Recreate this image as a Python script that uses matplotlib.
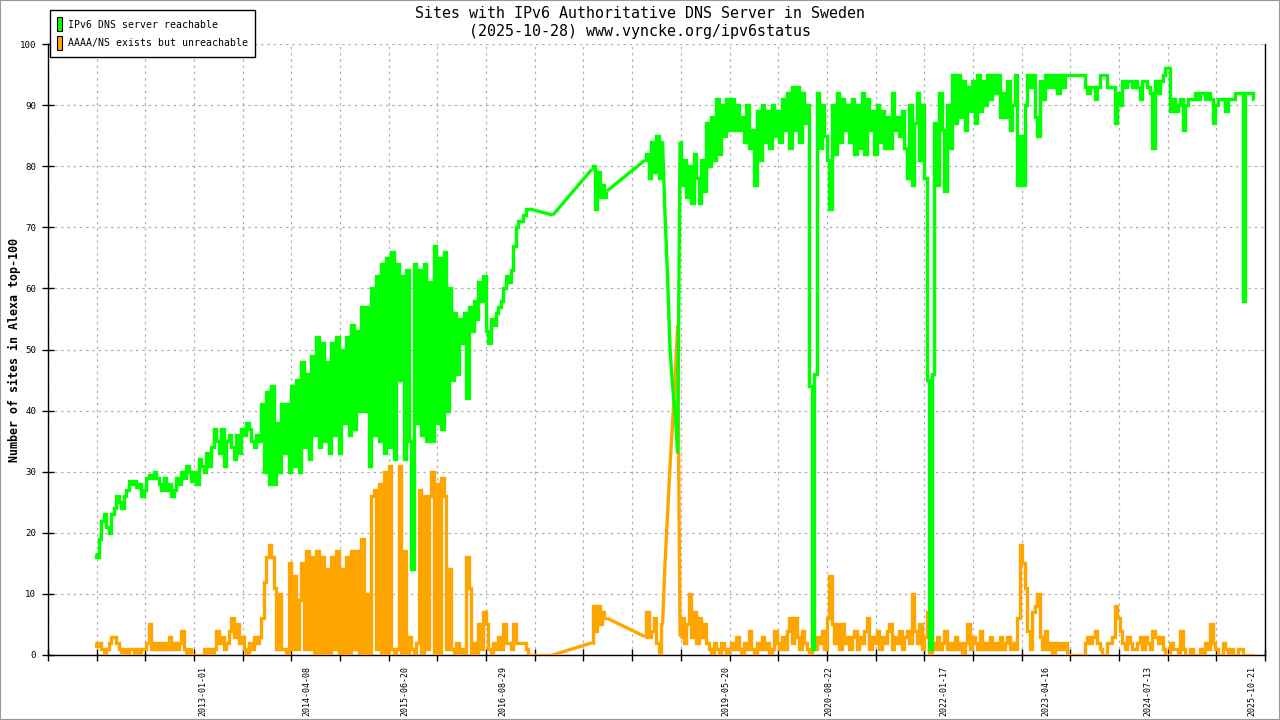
import numpy as np
import pandas as pd
import matplotlib
matplotlib.use("Agg")
import matplotlib.pyplot as plt
import matplotlib.dates as mdates
from matplotlib.patches import Patch, Rectangle

MONO = ["DejaVu Sans Mono", "Liberation Mono"]
plt.rcParams["font.family"] = MONO

TITLE = "Sites with IPv6 Authoritative DNS Server in Sweden\n(2025-10-28) www.vyncke.org/ipv6status"
YLABEL = "Number of sites in Alexa top-100"
SERIES_NAMES = ["IPv6 DNS server reachable", "AAAA/NS exists but unreachable"]

# ---- segment 1: dense measurements (2011-09-06 .. 2016-12-26) ----
seg1_span = ("2011-09-06", "2016-12-26")
green_s1 = [16.5, 16, 19, 22, 23, 21, 20, 23, 24, 26,
            25, 24, 26, 27, 28.5, 28, 28.5, 27.5, 28, 26,
            27, 29, 29.5, 29, 30, 29, 28, 27, 29, 27,
            28, 26, 27, 29, 28, 30, 29, 31, 30, 28.5,
            30, 28, 32, 31, 30, 33, 31, 34, 37, 35,
            33, 37, 31, 35, 36, 34, 32, 36, 33, 37,
            36, 38, 37, 35, 34, 36, 35, 41, 30, 43,
            28, 44, 28, 38, 30, 41, 33, 41, 30, 44,
            31, 45, 30, 48, 34, 46, 32, 49, 36, 52,
            34, 51, 35, 48, 33, 51, 36, 52, 33, 50,
            38, 52, 36, 54, 37, 53, 40, 57, 40, 57,
            31, 60, 36, 62, 35, 64, 33, 65, 34, 66,
            32, 64, 45, 62, 32, 63, 35, 14, 64, 38,
            63, 36, 64, 35, 61, 35, 67, 38, 65, 37,
            66, 40, 60, 45, 56, 46, 55, 51, 56, 42,
            57, 53, 58, 55, 61, 58, 62, 53, 51, 55,
            54, 56, 57, 58, 60, 62, 61, 63, 67, 70,
            71, 71, 72, 73, 73]
orange_s1 = [2, 1.5, 2, 1, 0, 1, 2, 3, 3, 2,
             1, 0.5, 1, 0, 1, 1, 0, 1, 0, 1,
             1, 2, 5, 1, 2, 1, 2, 1, 2, 1,
             3, 1, 2, 1, 2, 4, 1, 0, 1, 0,
             0, 0, 0, 0, 1, 0, 1, 0, 1, 4,
             2, 3, 1, 2, 4, 6, 3, 5, 2, 3,
             1, 0, 2, 1, 3, 2, 3, 6, 12, 16,
             18, 16, 11, 1, 10, 1, 1, 0, 15, 1,
             13, 1, 9, 15, 1, 17, 1, 16, 0, 17,
             0, 16, 0, 14, 0, 16, 1, 17, 0, 14,
             0, 16, 0, 17, 1, 17, 0, 19, 0, 10,
             0, 26, 27, 1, 28, 0, 30, 0, 31, 1,
             0, 1, 31, 0, 17, 0, 3, 1, 0, 2,
             27, 0, 26, 1, 26, 30, 0, 28, 0, 29,
             26, 1, 14, 1, 0, 2, 0, 1, 0, 16,
             11, 0, 2, 0, 5, 1, 7, 5, 1, 0,
             2, 1, 3, 1, 5, 2, 2, 1, 5, 2,
             2, 2, 2, 1, 0]

# ---- single sample in the sparse period ----
mid_span = ("2017-04-08", "2017-04-08")
green_mid = [72]
orange_mid = [0]

# ---- segment 2 (2017-09-29 .. 2017-12-07) ----
seg2_span = ("2017-09-29", "2017-12-07")
green_s2 = [79.5, 80, 73, 79, 75, 77, 75, 76]
orange_s2 = [2, 8, 4, 8, 5, 7, 6, 6]

# ---- segment 3a (2018-05-24 .. 2018-08-10) ----
seg3a_span = ("2018-05-24", "2018-08-10")
green_s3a = [81, 82, 78, 84, 79, 85, 78, 84]
orange_s3a = [3, 7, 3, 4, 6, 2, 0, 5]

# ---- transition (2018-08-21 .. 2018-10-16) ----
trans_span = ("2018-08-21", "2018-10-16")
green_tr = [72, 62, 50, 44, 40, 33]
orange_tr = [15, 23, 31, 38, 45, 54]

# ---- segment 3b (2018-10-27 .. 2025-10-28) ----
seg3b_span = ("2018-10-27", "2025-10-28")
green_s3b = [84, 77, 81, 75, 80, 74,
             82, 78, 74, 81, 76, 87, 80, 88, 81, 91,
             82, 90, 85, 91, 86, 91, 86, 90, 86, 88,
             84, 90, 83, 86, 77, 89, 81, 90, 84, 89,
             83, 90, 85, 89, 84, 91, 86, 92, 83, 93,
             86, 93, 84, 92, 87, 90, 44, 1, 46, 92,
             83, 90, 85, 81, 73, 90, 82, 92, 84, 91,
             86, 90, 84, 91, 82, 90, 83, 92, 82, 91,
             86, 89, 82, 90, 84, 89, 83, 88, 83, 92,
             86, 88, 85, 89, 83, 78, 90, 77, 87, 92,
             81, 90, 78, 45, 1, 46, 87, 77, 92, 86,
             76, 90, 83, 95, 87, 95, 88, 94, 86, 93,
             89, 94, 87, 95, 89, 94, 90, 95, 91, 95,
             92, 95, 88, 92, 88, 94, 86, 90, 95, 77,
             85, 77, 90, 95, 93, 95, 88, 85, 94, 91,
             95, 93, 95, 93, 95, 92, 95, 93, 95, 95,
             95, 95, 95, 95, 95, 95, 93, 92, 93, 93,
             91, 93, 95, 95, 95, 93, 93, 93, 87, 92,
             90, 94, 93, 94, 94, 93, 94, 93, 91, 94,
             94, 93, 92, 83, 94, 92, 94, 95, 96, 96,
             89, 91, 89, 90, 91, 86, 90, 91, 91, 91,
             92, 91, 92, 92, 91, 92, 91, 87, 90, 91,
             91, 91, 89, 91, 91, 91, 92, 92, 92, 58,
             92, 92, 92, 91]
orange_s3b = [3, 6, 2, 5, 10, 3,
              7, 2, 6, 3, 5, 2, 1, 0, 2, 1,
              0, 2, 1, 0, 1, 2, 1, 3, 1, 0,
              2, 1, 4, 1, 0, 2, 1, 3, 1, 2,
              0, 1, 4, 2, 1, 3, 1, 4, 6, 2,
              6, 3, 1, 4, 2, 1, 0, 1, 1, 3,
              2, 4, 1, 6, 13, 5, 2, 5, 1, 5,
              2, 3, 1, 3, 4, 1, 3, 2, 4, 6,
              1, 3, 2, 4, 1, 3, 2, 4, 5, 1,
              3, 2, 4, 1, 3, 4, 2, 10, 4, 2,
              5, 1, 3, 7, 0, 2, 1, 3, 1, 2,
              4, 1, 2, 1, 3, 1, 2, 0, 2, 5,
              1, 3, 2, 1, 4, 1, 2, 1, 3, 1,
              2, 1, 3, 1, 2, 3, 1, 2, 1, 6,
              18, 15, 11, 4, 1, 7, 8, 10, 3, 1,
              4, 1, 2, 0, 2, 1, 2, 1, 2, 0,
              0, 0, 0, 0, 0, 0, 2, 3, 2, 3,
              4, 2, 1, 0, 0, 2, 2, 3, 8, 6,
              4, 2, 1, 3, 2, 1, 1, 2, 3, 1,
              3, 2, 1, 4, 3, 2, 3, 1, 0, 0,
              2, 1, 1, 0, 4, 1, 0, 0, 1, 0,
              0, 0, 1, 0, 2, 1, 5, 2, 1, 0,
              0, 2, 1, 0, 1, 0, 0, 1, 1, 0,
              0, 0, 0, 0]

date_labels = ["2013-01-01", "2014-04-08", "2015-06-20", "2016-08-29", "2019-05-20",
               "2020-08-22", "2022-01-17", "2023-04-16", "2024-07-13", "2025-10-21"]
x_range = ("2011-02-09", "2025-12-16")
y_ticks = list(range(0, 101, 10))

# (span, dense?) – dense segments are drawn as steps, sparse ones as straight lines
segments = [(seg1_span, True), (mid_span, False), (seg2_span, True),
            (seg3a_span, True), (trans_span, False), (seg3b_span, True)]
green_parts = [green_s1, green_mid, green_s2, green_s3a, green_tr, green_s3b]
orange_parts = [orange_s1, orange_mid, orange_s2, orange_s3a, orange_tr, orange_s3b]

GREEN = "#00ff00"
ORANGE = "#ffa500"

fig = plt.figure(figsize=(12.8, 7.2), dpi=100)
ax = fig.add_axes([48 / 1280, 65 / 720, 1217 / 1280, 611 / 720])


def draw(parts, color, z):
    kw = dict(color=color, lw=2.4, zorder=z, solid_joinstyle="miter", solid_capstyle="butt")
    prev = None
    for (span, dense), vals in zip(segments, parts):
        d = pd.date_range(*span, periods=len(vals)).to_pydatetime()
        if dense:
            ax.plot(d, vals, drawstyle="steps-mid", **kw)
            if prev is not None:
                ax.plot([prev[0], d[0]], [prev[1], vals[0]], **kw)
        else:
            xs = ([prev[0]] if prev is not None else []) + list(d)
            ys = ([prev[1]] if prev is not None else []) + list(vals)
            ax.plot(xs, ys, **kw)
        prev = (d[-1], vals[-1])
        if not dense:
            prev = (d[-1], vals[-1])


def draw_series(parts, color, z):
    # straight connectors between a sparse part and the following dense part
    draw(parts, color, z)


draw_series(orange_parts, ORANGE, 3)
draw_series(green_parts, GREEN, 4)

x0, x1 = [mdates.date2num(pd.Timestamp(v)) for v in x_range]
ax.set_xlim(x0, x1)
ax.set_ylim(0, 100)

ax.set_xticks(np.linspace(x0, x1, 26))
ax.set_xticklabels([])
ax.tick_params(axis="x", which="major", direction="inout", length=9, width=1)
ax.set_xticks([mdates.date2num(pd.Timestamp(d)) for d in date_labels], minor=True)
ax.set_xticklabels(date_labels, minor=True, rotation=90, fontsize=6, family=MONO)
ax.tick_params(axis="x", which="minor", length=0, pad=8)

ax.set_yticks(y_ticks)
ax.set_yticklabels([str(v) for v in y_ticks], fontsize=6.6, family=MONO)
ax.tick_params(axis="y", which="major", direction="inout", length=9, width=1, pad=4)
ax.tick_params(right=False, top=False)

ax.grid(True, which="major", color="#b0b0b0", linestyle=(0, (2, 3)), linewidth=0.9)
ax.set_axisbelow(True)

for side in ("left", "bottom", "right"):
    ax.spines[side].set_color("black")
    ax.spines[side].set_linewidth(1)
ax.spines["top"].set_visible(False)

ax.set_ylabel(YLABEL, fontsize=8.4, fontweight="bold", family=MONO)
ax.yaxis.set_label_coords(-27 / 1217, 0.5)

fig.text(0.5, 1 - 6 / 720, TITLE, ha="center", va="top", fontsize=10.8,
         family=MONO, linespacing=1.25)

handles = [Patch(facecolor=GREEN, edgecolor="black", linewidth=0.8, label=SERIES_NAMES[0]),
           Patch(facecolor=ORANGE, edgecolor="black", linewidth=0.8, label=SERIES_NAMES[1])]
leg = fig.legend(handles=handles, loc="upper left", bbox_to_anchor=(50 / 1280, 1 - 10 / 720),
                 borderaxespad=0, fancybox=False, framealpha=1, edgecolor="black",
                 prop={"family": MONO, "size": 7.1}, handlelength=0.45, handleheight=1.8,
                 handletextpad=0.6, labelspacing=0.45, borderpad=0.75)
leg.get_frame().set_linewidth(1)

fig.patches.append(Rectangle((0, 0), 1, 1, transform=fig.transFigure, fill=False,
                             edgecolor="#999999", linewidth=1.5, zorder=10))

fig.savefig("out.png", dpi=100)
